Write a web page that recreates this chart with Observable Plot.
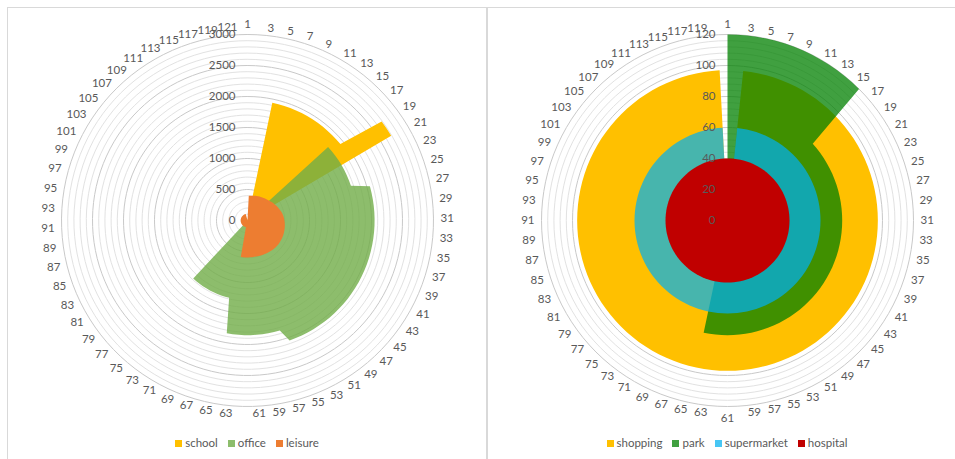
<!DOCTYPE html>
<html>
<head>
<meta charset="utf-8">
<script src="https://cdn.jsdelivr.net/npm/d3@7"></script>
<script src="https://cdn.jsdelivr.net/npm/@observablehq/plot@0.6"></script>
<style>
  html, body { margin: 0; padding: 0; background: #fff; overflow: hidden; width: 955px; height: 459px; }
  body { position: relative; font-family: Lato, "Open Sans", sans-serif; color: #595959; }
  .panel { position: absolute; top: 7px; width: 478px; height: 470px; border: 1px solid #d9d9d9; background: #fff; }
  #left { left: 7px; }
  #right { left: 487px; }
  .legend { display: flex; justify-content: center; align-items: center; height: 14px; margin-top: 8px;
            font-size: 11.5px; line-height: 14px; color: #595959; }
  .item { display: flex; align-items: center; margin: 0 5px; }
  .sw { width: 7px; height: 7px; margin-right: 3px; }
</style>
</head>
<body>
<div id="left" class="panel"></div>
<div id="right" class="panel"></div>
<script>
// ---------- left radar: 121 categories ----------
const leftCategories = d3.range(1, 122);
const school = [
  0, 0, 0, 0,
  1940, 1940, 1940, 1940, 1940, 1940, 1940, 1940, 1940, 1940, 1940, 1940, 1940, 1940,
  2690, 2690, 2690,
  0, 0, 0, 0, 0, 0, 0, 0, 0, 0, 0, 0, 0, 0, 0, 0, 0, 0, 0, 0,
  0, 0, 0, 0, 0, 0, 0, 0, 0, 0, 0, 0, 0, 0, 0, 0, 0, 0, 0, 0,
  0, 0, 0, 0, 0, 0, 0, 0, 0, 0, 0, 0, 0, 0, 0, 0, 0, 0, 0, 0,
  0, 0, 0, 0, 0, 0, 0, 0, 0, 0, 0, 0, 0, 0, 0, 0, 0, 0, 0, 0,
  0, 0, 0, 0, 0, 0, 0, 0, 0, 0, 0, 0, 0, 0, 0, 0, 0, 0, 0, 0
];
const office = [
  0, 0, 0, 0, 0, 0, 0, 0, 0, 0, 0, 0, 0, 0, 0, 0,
  1760, 1760, 1760, 1760, 1760, 1760, 1760, 1760, 1760,
  2050, 2050, 2050, 2050, 2050, 2050, 2050, 2050, 2050, 2050,
  2050, 2050, 2050, 2050, 2050, 2050, 2050, 2050, 2050, 2050,
  2050, 2050, 2050, 2050, 2050, 2050, 2050, 2050, 2050, 2050,
  1850, 1850, 1850, 1850, 1850, 1850, 1850, 1850, 1850, 1850,
  1280, 1280, 1280, 1280, 1280, 1280, 1280, 1280, 1280, 1280, 1280,
  0, 0, 0, 0, 0, 0, 0, 0, 0, 0, 0, 0, 0, 0, 0,
  0, 0, 0, 0, 0, 0, 0, 0, 0, 0, 0, 0, 0, 0, 0,
  0, 0, 0, 0, 0, 0, 0, 0, 0, 0, 0, 0, 0, 0, 0
];
const leisure = [
  0,
  400, 403, 406, 410, 414, 418, 422, 427, 432, 437,
  442, 447, 453, 460, 467, 475, 484, 493, 502, 511,
  520, 530, 540, 550, 560, 569, 577, 584, 590, 595,
  600, 604, 608, 612, 615, 618, 621, 623, 625, 627,
  628, 629, 629, 628, 626, 624, 621, 618, 615, 612,
  610, 607, 604, 601, 599, 597, 596, 596, 596, 596,
  597, 597, 597, 598,
  110, 110, 110, 110, 110, 110, 110, 110, 110, 110, 110, 110, 110,
  110, 110, 110, 110, 110, 110, 110, 110, 110, 110, 110, 110, 110,
  110, 110, 110, 110, 110, 110, 110, 110, 110, 110, 110, 110, 110,
  110, 110, 110, 110, 110, 110, 110, 110, 110, 110, 110, 110, 110,
  0, 0, 0, 0
];
const leftTicks = [0, 500, 1000, 1500, 2000, 2500, 3000];

// ---------- right radar: 120 categories ----------
const rightCategories = d3.range(1, 121);
const shopping = [
  0, 0,
  97, 97, 97, 97, 97, 97, 97, 97, 97, 97, 97, 97, 97, 97, 97, 97, 97, 97, 97, 97,
  97, 97, 97, 97, 97, 97, 97, 97, 97, 97, 97, 97, 97, 97, 97, 97, 97, 97, 97, 97,
  97, 97, 97, 97, 97, 97, 97, 97, 97, 97, 97, 97, 97, 97, 97, 97, 97, 97, 97, 97,
  97, 97, 97, 97, 97, 97, 97, 97, 97, 97, 97, 97, 97, 97, 97, 97, 97, 97, 97, 97,
  97, 97, 97, 97, 97, 97, 97, 97, 97, 97, 97, 97, 97, 97, 97, 97, 97, 97, 97, 97,
  97, 97, 97, 97, 97, 97, 97, 97, 97, 97, 97, 97, 97, 97, 97, 97, 97, 97
];
const park = [
  120, 120, 120, 120, 120, 120, 120, 120, 120, 120, 120, 120, 120, 120, 120, 120,
  74, 74, 74, 74, 74, 74, 74, 74, 74, 74, 74, 74, 74, 74, 74, 74, 74,
  74, 74, 74, 74, 74, 74, 74, 74, 74, 74, 74, 74, 74, 74, 74, 74, 74,
  74, 74, 74, 74, 74, 74, 74, 74, 74, 74, 74, 74, 74, 74, 74,
  0, 0, 0, 0, 0, 0, 0, 0, 0, 0, 0, 0, 0, 0, 0, 0, 0, 0, 0, 0,
  0, 0, 0, 0, 0, 0, 0, 0, 0, 0, 0, 0, 0, 0, 0, 0, 0, 0, 0, 0,
  0, 0, 0, 0, 0, 0, 0, 0, 0, 0, 0, 0, 0, 0, 0
];
const supermarket = [
  0, 0,
  60, 60, 60, 60, 60, 60, 60, 60, 60, 60, 60, 60, 60, 60, 60, 60, 60, 60, 60, 60,
  60, 60, 60, 60, 60, 60, 60, 60, 60, 60, 60, 60, 60, 60, 60, 60, 60, 60, 60, 60,
  60, 60, 60, 60, 60, 60, 60, 60, 60, 60, 60, 60, 60, 60, 60, 60, 60, 60, 60, 60,
  60, 60, 60, 60, 60, 60, 60, 60, 60, 60, 60, 60, 60, 60, 60, 60, 60, 60, 60, 60,
  60, 60, 60, 60, 60, 60, 60, 60, 60, 60, 60, 60, 60, 60, 60, 60, 60, 60, 60, 60,
  60, 60, 60, 60, 60, 60, 60, 60, 60, 60, 60, 60, 60, 60, 60, 60, 60, 60
];
const hospital = [
  40, 40, 40, 40, 40, 40, 40, 40, 40, 40, 40, 40, 40, 40, 40, 40, 40, 40, 40, 40,
  40, 40, 40, 40, 40, 40, 40, 40, 40, 40, 40, 40, 40, 40, 40, 40, 40, 40, 40, 40,
  40, 40, 40, 40, 40, 40, 40, 40, 40, 40, 40, 40, 40, 40, 40, 40, 40, 40, 40, 40,
  40, 40, 40, 40, 40, 40, 40, 40, 40, 40, 40, 40, 40, 40, 40, 40, 40, 40, 40, 40,
  40, 40, 40, 40, 40, 40, 40, 40, 40, 40, 40, 40, 40, 40, 40, 40, 40, 40, 40, 40,
  40, 40, 40, 40, 40, 40, 40, 40, 40, 40, 40, 40, 40, 40, 40, 40, 40, 40, 40, 40
];
const rightTicks = [0, 20, 40, 60, 80, 100, 120];

// Filled radar chart: category i sits at angle 360·i/n clockwise from the top.
function radar({categories, series, ticks, minorStep}) {
  const n = categories.length;
  const max = d3.max(ticks);
  const R = 186, cx = 239, cy = 212;
  const ang = i => 2 * Math.PI * i / n;
  const X = d => d.v * Math.sin(ang(d.i));
  const Y = d => d.v * Math.cos(ang(d.i));

  const rings = d3.range(minorStep, max + minorStep / 2, minorStep);
  const ringPts = rings.flatMap(v => categories.map((c, i) => ({v, i, major: ticks.includes(v)})));

  const labelV = max * 193 / R;
  const labels = categories
    .map((c, i) => ({c, i, v: labelV, deg: 360 * i / n}))
    .filter(d => d.c % 2 === 1);
  const txt = {x: X, y: Y, text: d => String(d.c), fill: "#595959"};

  const marks = [
    Plot.line(ringPts.filter(d => !d.major), {x: X, y: Y, z: "v", curve: "linear-closed", stroke: "#e2e2e2", strokeWidth: 1}),
    Plot.line(ringPts.filter(d => d.major), {x: X, y: Y, z: "v", curve: "linear-closed", stroke: "#c9c9c9", strokeWidth: 1}),
    ...series.map(s => Plot.line(s.values.map((v, i) => ({v, i})), {
      x: X, y: Y, curve: "linear-closed", fill: s.color, fillOpacity: s.opacity, stroke: "none"
    })),
    Plot.text(ticks, {x: () => 0, y: d => d, text: d => String(d), textAnchor: "end", dx: -12, fill: "#595959"}),
    Plot.text(labels.filter(d => d.deg > 0 && d.deg < 180), {...txt, textAnchor: "start"}),
    Plot.text(labels.filter(d => d.deg > 180), {...txt, textAnchor: "end"}),
    Plot.text(labels.filter(d => d.deg === 0), {...txt, textAnchor: "middle", lineAnchor: "bottom"}),
    Plot.text(labels.filter(d => d.deg === 180), {...txt, textAnchor: "middle", lineAnchor: "top"})
  ];

  return Plot.plot({
    width: 478,
    height: 420,
    margin: 0,
    style: {fontFamily: "Lato, 'Open Sans', sans-serif", fontSize: "11.5px", overflow: "visible", background: "transparent"},
    x: {type: "linear", domain: [-max, max], range: [cx - R, cx + R], axis: null},
    y: {type: "linear", domain: [-max, max], range: [cy + R, cy - R], axis: null},
    marks
  });
}

function legend(series) {
  const div = d3.create("div").attr("class", "legend");
  const item = div.selectAll(".item").data(series).join("div").attr("class", "item");
  item.append("span").attr("class", "sw")
    .style("background", d => d.color).style("opacity", d => d.opacity);
  item.append("span").text(d => d.name);
  return div.node();
}

const leftSeries = [
  {name: "school", values: school, color: "#FFC000", opacity: 1},
  {name: "office", values: office, color: "#70AD47", opacity: 0.8},
  {name: "leisure", values: leisure, color: "#ED7D31", opacity: 1}
];
const rightSeries = [
  {name: "shopping", values: shopping, color: "#FFC000", opacity: 1},
  {name: "park", values: park, color: "#008000", opacity: 0.75},
  {name: "supermarket", values: supermarket, color: "#00B0F0", opacity: 0.72},
  {name: "hospital", values: hospital, color: "#C00000", opacity: 1}
];

const left = document.getElementById("left");
left.append(radar({categories: leftCategories, series: leftSeries, ticks: leftTicks, minorStep: 100}));
left.append(legend(leftSeries));

const right = document.getElementById("right");
right.append(radar({categories: rightCategories, series: rightSeries, ticks: rightTicks, minorStep: 4}));
right.append(legend(rightSeries));
</script>
</body>
</html>
